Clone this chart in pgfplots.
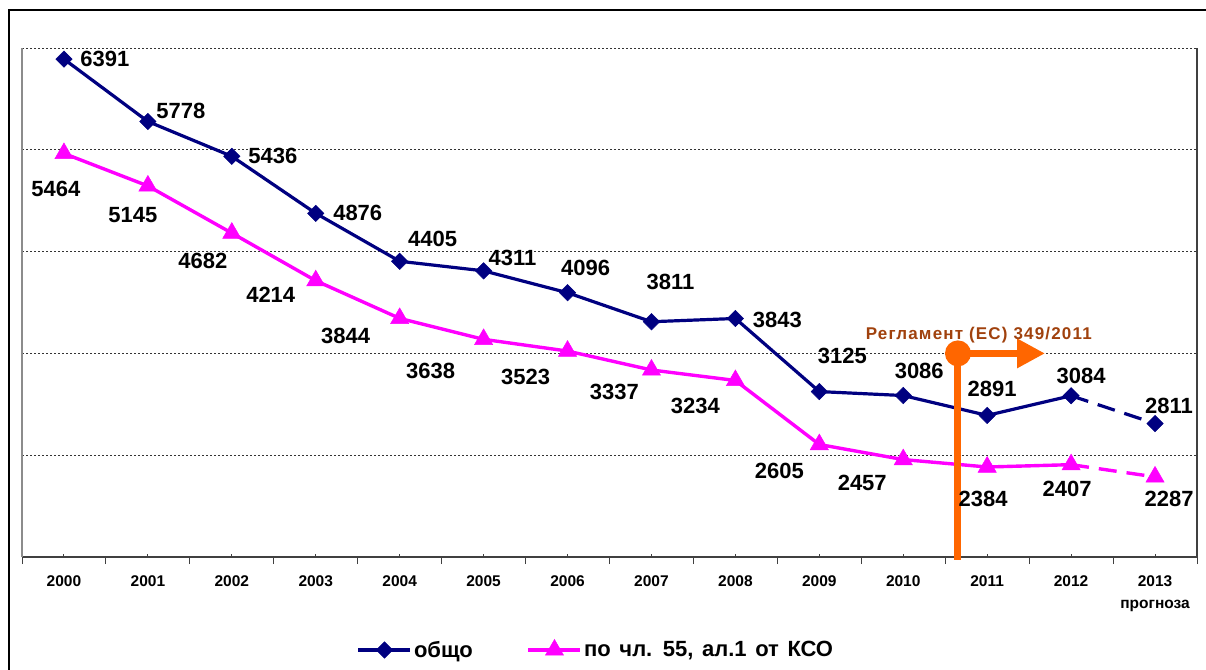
\documentclass[border=0pt]{standalone}
\usepackage{fontspec}
\setmainfont{Liberation Sans}
\usepackage{pgfplots}
\pgfplotsset{compat=1.18}
\usepackage{pgfplotstable}
\usetikzlibrary{arrows.meta}
\definecolor{navyc}{HTML}{000080}
\definecolor{magc}{HTML}{FF00FF}
\definecolor{orc}{HTML}{FF6600}
\definecolor{brc}{HTML}{A0410D}
\newcommand\lab{\fontsize{22bp}{24bp}\selectfont\bfseries}
\newcommand\tlab{\fontsize{15.5bp}{17bp}\selectfont\bfseries}

\pgfplotstableread{
x y dx dy
0 6391 41 0
1 5778 33 11
2 5436 41 0
3 4876 42 0
4 4405 33 22
5 4311 29 13
6 4096 18 25
7 3811 19 40
8 3843 42 -1
9 3125 23 36
10 3086 16 25
11 2891 5 26
12 3084 10 20
13 2811 14 18
}\blueT

\pgfplotstableread{
x y dx dy
0 5464 -8 -35
1 5145 -15 -29
2 4682 -29 -28
3 4214 -45 -14
4 3844 -54 -18
5 3638 -53 -32
6 3523 -42 -26
7 3337 -37 -22
8 3234 -40 -25
9 2605 -40 -26
10 2457 -41 -23
11 2384 -4 -32
12 2407 -4 -24
13 2287 14 -22
}\pinkT

\pgfplotsset{
  lbl/.style={
    visualization depends on={\thisrow{dx}\as\dx},
    visualization depends on={\thisrow{dy}\as\dy},
    point meta=explicit symbolic, nodes near coords={\pgfplotspointmeta},
    every node near coord/.append style={anchor=center, xshift=\dx bp, yshift=\dy bp, font=\lab, text=black}},
}

\begin{document}
\begin{tikzpicture}
\path[use as bounding box] (0,0) rectangle (1206bp,670bp);
\draw[line width=2bp, black] (9bp,0) -- (9bp,660bp) -- (1206bp,660bp);
\begin{axis}[
  at={(22bp,113bp)}, anchor=south west,
  scale only axis, width=1175bp, height=509bp,
  xmin=-0.5, xmax=13.5, ymin=1500, ymax=6500,
  clip=false,
  axis x line*=bottom, axis y line*=left,
  x axis line style={line width=1.5bp, color=black!75, -},
  y axis line style={line width=1.5bp, color=black!45, -},
  xtick={0,...,13},
  xticklabels={2000,2001,2002,2003,2004,2005,2006,2007,2008,2009,2010,2011,2012,{2013\\[5bp]прогноза}},
  xtick align=inside,
  major tick length=3bp,
  xtick style={line width=1bp, color=black!75},
  extra x ticks={-0.5,0.5,...,13.5},
  extra x tick labels={},
  extra x tick style={tick align=outside, major tick length=7bp},
  xticklabel style={font=\tlab, align=center, inner sep=0pt, anchor=north, yshift=-18bp},
  ytick={2500,3500,4500,5500,6500},
  yticklabels={},
  ytick style={draw=none},
  ymajorgrids,
  major grid style={black!80, line width=0.8bp, dash pattern=on 2bp off 2bp},
  legend style={at={(0.4885,-0.1827)}, anchor=center, draw=none, fill=none,
    font=\lab, legend columns=2,
    /tikz/every even column/.append style={column sep=52bp}},
  legend image code/.code={\draw[mark repeat=2,mark phase=2,#1] plot coordinates {(0bp,0bp)(26bp,0bp)(52bp,0bp)};},
]
% blue series
\addplot[navyc, line width=3.2bp, mark=square*, mark size=5.8bp,
  mark options={solid, rotate=45, line width=0.5bp},
  skip coords between index={13}{14}, lbl]
  table[x=x, y=y, meta=y] {\blueT};
\addlegendentry{общо}
\addplot[navyc, line width=3.2bp, dash pattern=on 18bp off 10bp, forget plot,
  skip coords between index={0}{12}] table[x=x, y=y] {\blueT};
\addplot[navyc, only marks, mark=square*, mark size=5.8bp,
  mark options={solid, rotate=45, line width=0.5bp}, forget plot,
  skip coords between index={0}{13}, lbl]
  table[x=x, y=y, meta=y] {\blueT};
% pink series
\addplot[magc, line width=3.4bp, mark=triangle*, mark size=10.5bp,
  mark options={solid, line width=0.5bp},
  skip coords between index={13}{14}, lbl]
  table[x=x, y=y, meta=y] {\pinkT};
\addlegendentry{\spaceskip=0.39em по чл. 55, ал.1 от КСО}
\addplot[magc, line width=3.4bp, dash pattern=on 18bp off 10bp, forget plot,
  skip coords between index={0}{12}] table[x=x, y=y] {\pinkT};
\addplot[magc, only marks, mark=triangle*, mark size=10.5bp,
  mark options={solid, line width=0.5bp}, forget plot,
  skip coords between index={0}{13}, lbl]
  table[x=x, y=y, meta=y] {\pinkT};
% borders
\draw[black!75, line width=1.5bp] (rel axis cs:1,0) -- (rel axis cs:1,1);
% regulation marker
\draw[orc, line width=7bp] (axis cs:10.652,3500) -- ([yshift=-3bp]axis cs:10.652,1500);
\draw[orc, line width=7bp, -{Triangle[length=28bp,width=28bp]}] (axis cs:10.652,3500) -- (axis cs:11.689,3500);
\fill[orc] (axis cs:10.652,3500) circle[radius=13bp];
\node[text=brc, font=\fontsize{17bp}{19bp}\selectfont\bfseries\addfontfeatures{LetterSpace=7}] at (axis cs:10.90,3681) {Регламент (ЕС) 349/2011};
\end{axis}
\end{tikzpicture}
\end{document}
